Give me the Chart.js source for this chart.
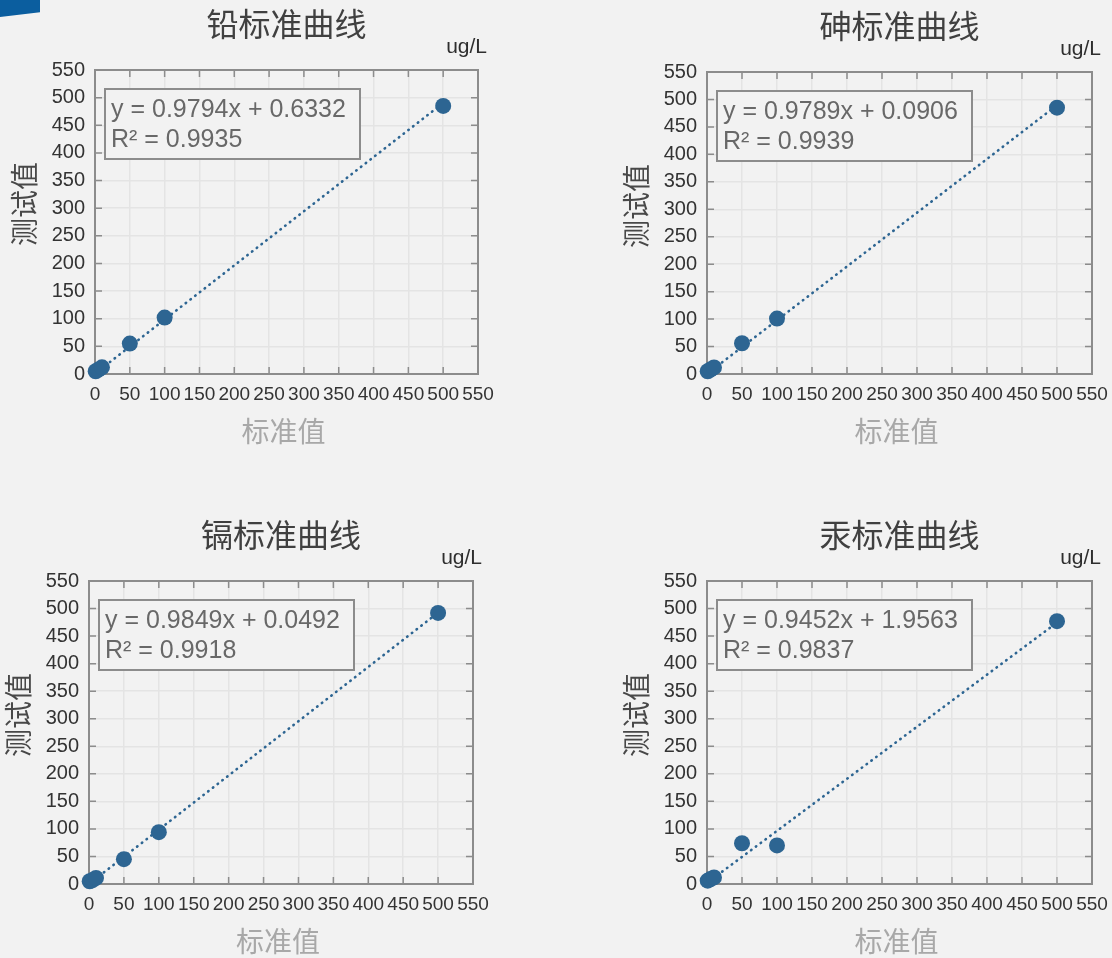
<!DOCTYPE html>
<html>
<head>
<meta charset="utf-8">
<script src="https://cdn.jsdelivr.net/npm/chart.js@4.4.1/dist/chart.umd.min.js"></script>
<style>
  html, body { margin: 0; padding: 0; background: #f2f2f2; width: 1112px; height: 958px; overflow: hidden; }
  .cell { position: absolute; width: 556px; height: 479px; }
  .corner { position: absolute; left: 0; top: 0; width: 40px; height: 17px; background: #0b5e9f;
            clip-path: polygon(0 0, 100% 0, 100% 72%, 0 100%); }
</style>
</head>
<body>
<div class="corner"></div>
<div class="cell" style="left:0;top:0"><canvas id="c0" width="556" height="479"></canvas></div>
<div class="cell" style="left:556px;top:0"><canvas id="c1" width="556" height="479"></canvas></div>
<div class="cell" style="left:0;top:479px"><canvas id="c2" width="556" height="479"></canvas></div>
<div class="cell" style="left:556px;top:479px"><canvas id="c3" width="556" height="479"></canvas></div>
<script>
// Calibration data: standard concentrations vs measured values (ug/L)
const chartTitles = ['铅标准曲线', '砷标准曲线', '镉标准曲线', '汞标准曲线'];
const standardValues = [1, 5, 10, 50, 100, 500];
const leadMeasured = [5, 8, 12, 55, 102, 485];
const arsenicMeasured = [5, 8, 12, 56, 101, 485];
const cadmiumMeasured = [5, 7, 11, 45, 94, 492];
const mercuryMeasured = [6, 9, 12, 74, 70, 477];
const fitSlopes = [0.9794, 0.9789, 0.9849, 0.9452];
const fitIntercepts = [0.6332, 0.0906, 0.0492, 1.9563];
const fitR2 = ['0.9935', '0.9939', '0.9918', '0.9837'];
const axisTicks = [0, 50, 100, 150, 200, 250, 300, 350, 400, 450, 500, 550];
const unitLabel = 'ug/L';
const xAxisTitle = '标准值';
const yAxisTitle = '测试值';

const measuredSets = [leadMeasured, arsenicMeasured, cadmiumMeasured, mercuryMeasured];

// Plot-area placement inside each 556x479 canvas
const plotBoxes = [
  { l: 95,  t: 70,  r: 478, b: 374 },
  { l: 151, t: 72,  r: 536, b: 374 },
  { l: 89,  t: 102, r: 473, b: 405 },
  { l: 151, t: 102, r: 536, b: 405 }
];
const Y_AXIS_W = 50, X_AXIS_H = 40, CW = 556, CH = 479;

const NUM_FONT = "'Liberation Sans', Arial, sans-serif";
const CJK_FONT = "'Noto Sans CJK SC', 'Noto Sans', sans-serif";
const MARK = '#2d6592';
const FRAME = '#8c8c8c';

// Draws the boxed frame with inward ticks
const framePlugin = {
  id: 'frame',
  beforeDatasetsDraw(chart) {
    const { ctx, chartArea: a, scales } = chart;
    ctx.save();
    ctx.strokeStyle = FRAME;
    ctx.lineWidth = 1.5;
    axisTicks.forEach(v => {
      const x = scales.x.getPixelForValue(v);
      const y = scales.y.getPixelForValue(v);
      ctx.beginPath();
      ctx.moveTo(x, a.bottom); ctx.lineTo(x, a.bottom - 7);
      ctx.moveTo(x, a.top); ctx.lineTo(x, a.top + 7);
      ctx.moveTo(a.left, y); ctx.lineTo(a.left + 7, y);
      ctx.moveTo(a.right, y); ctx.lineTo(a.right - 7, y);
      ctx.stroke();
    });
    ctx.lineWidth = 2;
    ctx.strokeRect(a.left, a.top, a.right - a.left, a.bottom - a.top);
    ctx.restore();
  }
};

// Titles, unit label, axis titles and the fit-equation box
const annotatePlugin = {
  id: 'annotate',
  afterDraw(chart) {
    const idx = chart.options.plugins.annotate.index;
    const { ctx, chartArea: a } = chart;
    const cx = (a.left + a.right) / 2;
    ctx.save();
    ctx.textBaseline = 'middle';

    ctx.fillStyle = '#404040';
    ctx.font = `32px ${CJK_FONT}`;
    ctx.textAlign = 'center';
    ctx.fillText(chartTitles[idx], cx, a.top - 46);

    ctx.fillStyle = '#2e2e2e';
    ctx.font = `21px ${NUM_FONT}`;
    ctx.textAlign = 'right';
    ctx.fillText(unitLabel, a.right + 9, a.top - 23);

    ctx.fillStyle = '#a8a8a8';
    ctx.font = `28px ${CJK_FONT}`;
    ctx.textAlign = 'center';
    ctx.fillText(xAxisTitle, cx - 3, a.bottom + 57);

    ctx.save();
    ctx.translate(a.left - 71, a.top + 134);
    ctx.rotate(-Math.PI / 2);
    ctx.fillStyle = '#484848';
    ctx.fillText(yAxisTitle, 0, 0);
    ctx.restore();

    // equation box
    const bx = a.left + 10, by = a.top + 19;
    ctx.fillStyle = '#f2f2f2';
    ctx.fillRect(bx, by, 255, 70);
    ctx.strokeStyle = FRAME;
    ctx.lineWidth = 2;
    ctx.strokeRect(bx, by, 255, 70);
    ctx.fillStyle = '#686868';
    ctx.font = `25px ${NUM_FONT}`;
    ctx.textAlign = 'left';
    const eq = `y = ${fitSlopes[idx].toFixed(4)}x + ${fitIntercepts[idx].toFixed(4)}`;
    ctx.fillText(eq, bx + 6, by + 21);
    ctx.fillText(`R² = ${fitR2[idx]}`, bx + 6, by + 51);
    ctx.restore();
  }
};

function buildChart(idx) {
  const box = plotBoxes[idx];
  const measured = measuredSets[idx];
  const points = standardValues.map((s, i) => ({ x: s, y: measured[i] }));
  const x0 = Math.min(...standardValues), x1 = Math.max(...standardValues);
  const fitLine = [x0, x1].map(x => ({ x, y: fitSlopes[idx] * x + fitIntercepts[idx] }));

  new Chart(document.getElementById('c' + idx), {
    type: 'scatter',
    data: {
      datasets: [
        { data: points, backgroundColor: MARK, borderWidth: 0, pointRadius: 8, pointHoverRadius: 8, clip: false },
        { data: fitLine, showLine: true, pointRadius: 0, borderColor: MARK, borderWidth: 2.6,
          borderDash: [0.5, 5.5], borderCapStyle: 'round', clip: false }
      ]
    },
    options: {
      responsive: false,
      animation: false,
      devicePixelRatio: 1,
      layout: {
        padding: {
          left: box.l - Y_AXIS_W,
          top: box.t,
          right: CW - box.r,
          bottom: CH - box.b - X_AXIS_H
        }
      },
      plugins: { legend: { display: false }, tooltip: { enabled: false }, annotate: { index: idx } },
      scales: {
        x: {
          type: 'linear', min: 0, max: 550,
          afterBuildTicks(s) { s.ticks = axisTicks.map(v => ({ value: v })); },
          ticks: { color: '#333333', font: { family: NUM_FONT, size: 19 }, padding: 9, maxRotation: 0, autoSkip: false },
          grid: { color: '#e4e4e4', lineWidth: 1.5, drawTicks: false },
          border: { display: false },
          afterFit(s) { s.height = X_AXIS_H; s.paddingLeft = 0; s.paddingRight = 0; }
        },
        y: {
          type: 'linear', min: 0, max: 550,
          afterBuildTicks(s) { s.ticks = axisTicks.map(v => ({ value: v })); },
          ticks: { color: '#333333', font: { family: NUM_FONT, size: 20 }, padding: 10, autoSkip: false },
          grid: { color: '#e4e4e4', lineWidth: 1.5, drawTicks: false },
          border: { display: false },
          afterFit(s) { s.width = Y_AXIS_W; s.paddingTop = 0; s.paddingBottom = 0; }
        }
      }
    },
    plugins: [framePlugin, annotatePlugin]
  });
}

[0, 1, 2, 3].forEach(buildChart);
</script>
</body>
</html>
